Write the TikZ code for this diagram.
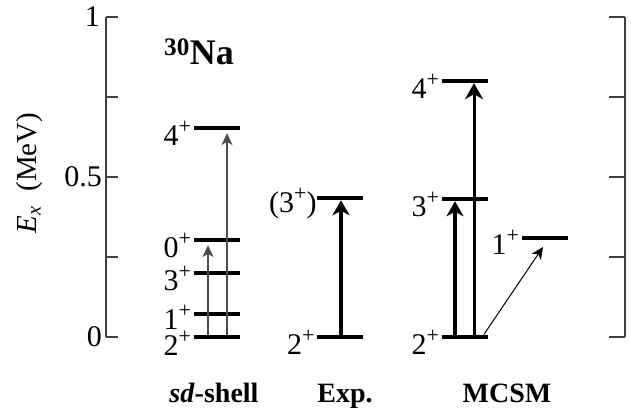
\documentclass[tikz,border=0pt]{standalone}
\usepackage{fontspec}
\setmainfont{Liberation Serif}
\usetikzlibrary{arrows.meta,positioning}

\newcommand{\spinlbl}[1]{#1\raisebox{0.40em}{\fontsize{22}{22}\selectfont+}}

\begin{document}
\begin{tikzpicture}[
    x=1pt, y=320pt,
    level/.style={fill=black, minimum width=46pt, minimum height=4pt, inner sep=0pt},
    lbl/.style={inner sep=0pt, font=\fontsize{30}{32}\selectfont, yshift=-5pt},
    ticklbl/.style={anchor=east, inner sep=0pt, font=\fontsize{30}{32}\selectfont},
    head/.style={anchor=base, inner sep=0pt, font=\fontsize{28}{32}\selectfont\bfseries},
    axis/.style={black!75, line width=1.2pt},
    thinarrow/.style={-{Stealth[length=12pt, width=11pt, inset=3.5pt]}, line width=1.2pt, black!70},
    diagarrow/.style={-{Stealth[length=12pt, width=11pt, inset=3.5pt]}, line width=1pt},
    arrow/.style={-{Stealth[length=16pt, width=18pt, inset=5pt]}, line width=3pt},
    thickarrow/.style={-{Stealth[length=15pt, width=17pt, inset=4.5pt]}, line width=4.3pt}
]
\useasboundingbox (0,-0.228) rectangle (631,1.053);

% Axes and ticks
\draw[axis] (106,0) -- (106,1);
\draw[axis] (625,0) -- (625,1);
\foreach \e in {0,0.25,0.5,0.75,1} {
    \draw[axis] (106,\e) -- ++(12,0);
    \draw[axis] (625,\e) -- ++(-16,0);
}
\node[ticklbl] (t0) at (102,0) {0};
\node[ticklbl] (t05) at (102,0.5) {0.5};
\node[ticklbl] (t1) at (100,1) {1};
\node[rotate=90, font=\fontsize{29}{32}\selectfont] (ylab) at (30,0.5125) {\textit{E\textsubscript{x}}\ \ (MeV)};

% Nucleus
\node[anchor=base west, inner sep=0pt, font=\fontsize{36}{40}\selectfont\bfseries] (title) at (164,0.85) {\textsuperscript{30}Na};

% sd-shell levels
\node[level] (sd2) at (216.5,0) {};
\node[level] (sd1) at (216.5,0.072) {};
\node[level] (sd3) at (216.5,0.2) {};
\node[level] (sd0) at (216.5,0.303) {};
\node[level] (sd4) at (216.5,0.653) {};
\node[lbl, left=2pt of sd2, yshift=-1pt] (sd2l) {\spinlbl{2}};
\node[lbl, left=2pt of sd1, yshift=2pt] (sd1l) {\spinlbl{1}};
\node[lbl, left=2pt of sd3] (sd3l) {\spinlbl{3}};
\node[lbl, left=2pt of sd0] (sd0l) {\spinlbl{0}};
\node[lbl, left=2pt of sd4] (sd4l) {\spinlbl{4}};

% Experiment
\node[level] (ex2) at (340,0) {};
\node[level] (ex3) at (340,0.434) {};
\node[lbl, left=2pt of ex2] (ex2l) {\spinlbl{2}};
\node[lbl, left=0pt of ex3] (ex3l) {(\spinlbl{3})};

% MCSM
\node[level] (mc2) at (464.5,0) {};
\node[level] (mc3) at (464.5,0.431) {};
\node[level] (mc4) at (464.5,0.8) {};
\node[level] (mc1) at (544.5,0.31) {};
\node[lbl, left=2pt of mc2] (mc2l) {\spinlbl{2}};
\node[lbl, left=2pt of mc3] (mc3l) {\spinlbl{3}};
\node[lbl, left=2pt of mc4] (mc4l) {\spinlbl{4}};
\node[lbl, left=2pt of mc1] (mc1l) {\spinlbl{1}};

% Transitions
\draw[thinarrow] ([xshift=-8.5pt]sd2.north) -- ([xshift=-8.5pt,yshift=-3pt]sd0.south);
\draw[thinarrow] ([xshift=10.5pt]sd2.north) -- ([xshift=10.5pt,yshift=-3pt]sd4.south);
\draw[thickarrow] ([xshift=1pt]ex2.north) -- ([xshift=1pt]ex3.south);
\draw[thickarrow] ([xshift=-9.5pt]mc2.north) -- ([xshift=-9.5pt]mc3.south);
\draw[arrow] ([xshift=9.5pt]mc2.north) -- ([xshift=9.5pt]mc4.south);
\draw[diagarrow] ([xshift=-4pt]mc2.north east) -- ([xshift=-1.5pt,yshift=-7pt]mc1.south);

% Column labels
\node[head] (sdlab) at (214,-0.206) {\textit{sd}-shell};
\node[head] (exlab) at (345,-0.206) {Exp.};
\node[head] (mclab) at (507,-0.206) {MCSM};

\end{tikzpicture}
\end{document}
